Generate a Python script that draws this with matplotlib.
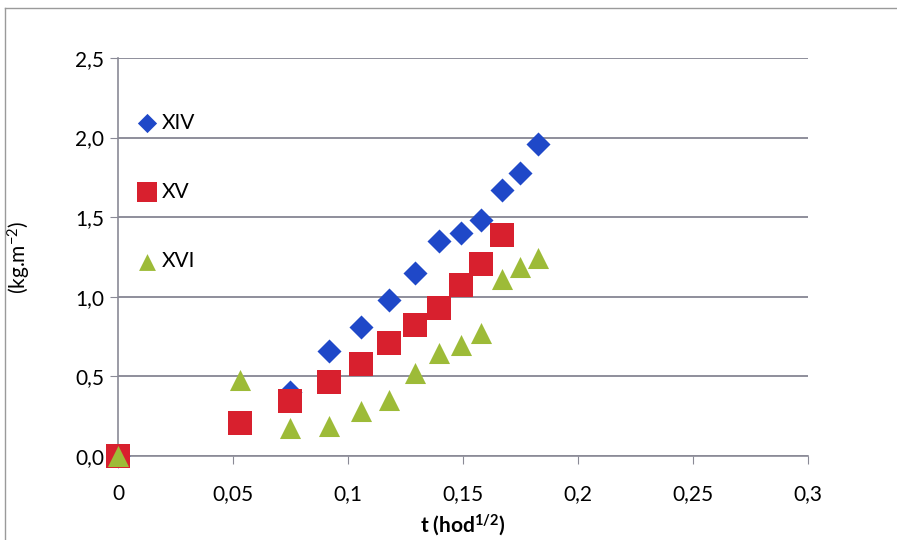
import matplotlib.pyplot as plt
from matplotlib.lines import Line2D

# t (hod^1/2) values
t_xiv = [0, 0.0748, 0.0916, 0.1057, 0.118, 0.129, 0.1396, 0.149, 0.158, 0.1668, 0.1748, 0.1825]
xiv = [0, 0.40, 0.66, 0.81, 0.98, 1.15, 1.35, 1.40, 1.48, 1.67, 1.78, 1.96]

t_xv = [0, 0.053, 0.0748, 0.0916, 0.1057, 0.118, 0.129, 0.1396, 0.149, 0.158, 0.1668]
xv = [0, 0.21, 0.345, 0.465, 0.58, 0.71, 0.82, 0.93, 1.075, 1.205, 1.39]

t_xvi = [0, 0.053, 0.0748, 0.0916, 0.1057, 0.118, 0.129, 0.1396, 0.149, 0.158, 0.1668, 0.1748, 0.1825]
xvi = [0, 0.48, 0.175, 0.19, 0.285, 0.35, 0.52, 0.645, 0.70, 0.775, 1.11, 1.19, 1.245]

x_ticks = [0, 0.05, 0.1, 0.15, 0.2, 0.25, 0.3]
x_labels = ['0', '0,05', '0,1', '0,15', '0,2', '0,25', '0,3']
y_ticks = [0, 0.5, 1.0, 1.5, 2.0, 2.5]
y_labels = ['0,0', '0,5', '1,0', '1,5', '2,0', '2,5']

plt.rcParams['font.family'] = ['Lato', 'DejaVu Sans']
plt.rcParams['mathtext.default'] = 'regular'

fig = plt.figure(figsize=(8.97, 5.40), dpi=100)
ax = fig.add_axes([0.1315, 0.1556, 0.7693, 0.737])

ax.scatter(t_xiv, xiv, marker='D', s=150, color='#1f48c8', label='XIV', zorder=3, linewidths=0)
ax.scatter(t_xv, xv, marker='s', s=300, color='#d8202e', label='XV', zorder=4, linewidths=0)
ax.scatter(t_xvi, xvi, marker='^', s=230, color='#9dbb38', label='XVI', zorder=5, linewidths=0)

ax.set_xlim(0, 0.3)
ax.set_ylim(0, 2.5)
ax.set_xticks(x_ticks)
ax.set_xticklabels(x_labels, fontsize=15)
ax.set_yticks(y_ticks)
ax.set_yticklabels(y_labels, fontsize=15)
ax.tick_params(axis='x', direction='out', length=6, color='#8a8a96', pad=14)
ax.tick_params(axis='y', direction='out', length=6, color='#8a8a96', pad=4)

ax.grid(axis='y', color='#7c7c8a', linewidth=1.2)
ax.set_axisbelow(True)
for side in ['top', 'right']:
    ax.spines[side].set_visible(False)
for side in ['left', 'bottom']:
    ax.spines[side].set_color('#8a8a96')
    ax.spines[side].set_linewidth(1.2)
for c in ax.collections:
    c.set_clip_on(False)

ax.set_xlabel('t (hod$^{1/2}$)', fontsize=15, fontweight='bold', labelpad=6)
ax.set_ylabel('(kg.m$^{-2}$)', fontsize=15, labelpad=30)

leg = ax.legend(loc='upper left', bbox_to_anchor=(0.0, 0.91), frameon=False,
                fontsize=15, labelspacing=2.37, handletextpad=0.2, handlelength=1.0,
                markerscale=0.8)

# outer chart border
fig.add_artist(Line2D([0.006, 0.006], [0, 0.986], color='#9a9a9a', linewidth=1))
fig.add_artist(Line2D([0.006, 1.01], [0.986, 0.986], color='#9a9a9a', linewidth=1))

fig.savefig('out.png', dpi=100)
